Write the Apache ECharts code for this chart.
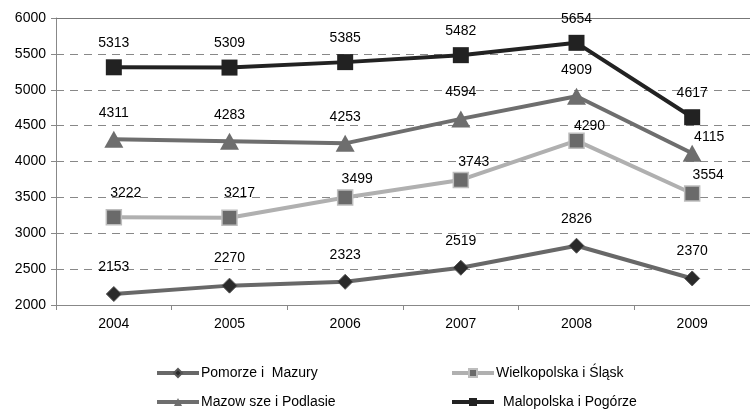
<!DOCTYPE html>
<html><head><meta charset="utf-8">
<script src="https://cdn.jsdelivr.net/npm/echarts@6/dist/echarts.min.js"></script>
<style>html,body{margin:0;padding:0;background:#fff}#c{width:750px;height:410px}</style>
</head><body><div id="c"></div>
<script>
const years = ['2004','2005','2006','2007','2008','2009'];
const seriesNames = ['Pomorze i  Mazury','Wielkopolska i Śląsk','Mazow sze i Podlasie','Malopolska i Pogórze'];
const pomorze = [2153, 2270, 2323, 2519, 2826, 2370];
const wielkopolska = [3222, 3217, 3499, 3743, 4290, 3554];
const mazowsze = [4311, 4283, 4253, 4594, 4909, 4115];
const malopolska = [5313, 5309, 5385, 5482, 5654, 4617];

// label offset tweaks (style only), keyed by point index
const wielkopolskaLabelShift = {0:[12,-6],1:[10,-6],2:[12,0],3:[13,0],4:[13,4],5:[16,0]};
const mazowszeLabelShift = {5:[17,10]};

const font = 'Liberation Sans, Arial, sans-serif';
const chart = echarts.init(document.getElementById('c'));
function lbl(dist){return {show:true,position:'top',distance:dist,color:'#000',fontSize:14,fontFamily:font};}
function withShift(vals, shifts){
  return vals.map((v,i)=> shifts[i] ? {value:v,label:{offset:shifts[i]}} : v);
}
const legendText = {fontSize:14,fontFamily:font,color:'#000',padding:[0,0,0,-3]};
const legendBase = {itemWidth:42,itemHeight:10,lineStyle:{width:4}};
chart.setOption({
  animation:false,
  grid:{left:56,right:-9,top:18,bottom:105},
  xAxis:[{type:'category',data:years,boundaryGap:true,
    axisLine:{lineStyle:{color:'#888',width:1}},
    axisTick:{show:true,length:5,inside:false,lineStyle:{color:'#888'}},
    axisLabel:{color:'#000',fontSize:14,fontFamily:font,margin:12}},
    {type:'category',data:years,position:'top',axisLine:{show:true,lineStyle:{color:'#777'}},axisTick:{show:false},axisLabel:{show:false}}],
  yAxis:{type:'value',min:2000,max:6000,interval:500,
    axisLine:{show:true,lineStyle:{color:'#888'}},
    axisTick:{show:true,length:5,lineStyle:{color:'#888'}},
    axisLabel:{color:'#000',fontSize:14,fontFamily:font,margin:10,formatter:v=>String(v)},
    splitLine:{show:true,lineStyle:{color:'#888',type:[8,6],width:1}}},
  legend:[
    Object.assign({data:[seriesNames[0]],left:150,top:361,textStyle:legendText},legendBase),
    Object.assign({data:[seriesNames[1]],left:445,top:361,textStyle:legendText},legendBase),
    Object.assign({data:[seriesNames[2]],left:150,top:390,textStyle:legendText},legendBase),
    Object.assign({data:[seriesNames[3]],left:445,top:390,textStyle:Object.assign({},legendText,{padding:[0,0,0,4]})},legendBase)
  ],
  series:[
    {name:seriesNames[0],type:'line',data:pomorze,symbol:'diamond',symbolSize:15,
      lineStyle:{color:'#686868',width:4},itemStyle:{color:'#2a2a2a',borderColor:'#555',borderWidth:1},
      label:lbl(12)},
    {name:seriesNames[1],type:'line',data:withShift(wielkopolska,wielkopolskaLabelShift),symbol:'rect',symbolSize:15,
      lineStyle:{color:'#b0b0b0',width:4},itemStyle:{color:'#6a6a6a',borderColor:'#bdbdbd',borderWidth:1.5},
      label:lbl(3)},
    {name:seriesNames[2],type:'line',data:withShift(mazowsze,mazowszeLabelShift),symbol:'triangle',symbolSize:[19,17],
      lineStyle:{color:'#6e6e6e',width:4},itemStyle:{color:'#6e6e6e'},
      label:lbl(11)},
    {name:seriesNames[3],type:'line',data:malopolska,symbol:'rect',symbolSize:16,
      lineStyle:{color:'#222',width:4},itemStyle:{color:'#222'},
      label:lbl(9)}
  ]
});
</script></body></html>
